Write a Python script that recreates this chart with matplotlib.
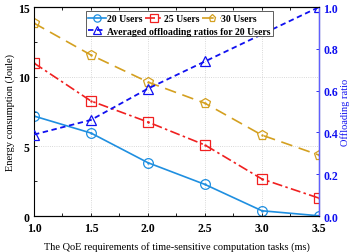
import matplotlib.pyplot as plt
from matplotlib.patches import Rectangle

plt.rcParams['font.family'] = 'Liberation Serif'

qoe = [1.0, 1.5, 2.0, 2.5, 3.0, 3.5]
energy_20 = [7.18, 5.96, 3.83, 2.27, 0.38, 0.02]
energy_25 = [10.98, 8.26, 6.75, 5.10, 2.66, 1.29]
energy_30 = [13.85, 11.56, 9.62, 8.10, 5.81, 4.38]
qoe_ratio = [1.0, 1.5, 2.0, 2.5, 3.5]
ratio_20 = [0.39, 0.46, 0.61, 0.74, 1.0]

c20 = '#1f8fe0'
c25 = '#f02020'
c30 = '#d4a020'
cavg = '#1010f0'

fig = plt.figure(figsize=(3.54, 2.53), dpi=100)
ax = fig.add_axes([0.096, 0.142, 0.805, 0.826])
ax2 = ax.twinx()

series = [
    (energy_20, c20, '-', 'o', '20 Users'),
    (energy_25, c25, (0, (6, 2, 1.5, 2)), 's', '25 Users'),
    (energy_30, c30, (0, (7, 4)), 'p', '30 Users'),
]
handles = []
for y, c, ls, m, lab in series:
    h, = ax.plot(qoe, y, color=c, linestyle=ls, linewidth=1.2, marker=m,
                 markersize=7, markerfacecolor='none', markeredgewidth=0.9, label=lab)
    ax.plot(qoe, y, linestyle='none', marker='.', markersize=1.5, color=c)
    handles.append(h)

hr, = ax2.plot(qoe_ratio, ratio_20, color=cavg, linestyle=(0, (3, 2)), linewidth=1.3,
               marker='^', markersize=7, markerfacecolor='none', markeredgewidth=0.9,
               label='Averaged offloading ratios for 20 Users')

ax.set_xlim(1.0, 3.5)
ax.set_ylim(0, 15)
ax2.set_ylim(0, 1.0)
ax.set_xticks([1.0, 1.5, 2.0, 2.5, 3.0, 3.5])
ax.set_xticks([1.25, 1.75, 2.25, 2.75, 3.25], minor=True)
ax.set_yticks([0, 5, 10, 15])
ax.set_yticks([2.5, 7.5, 12.5], minor=True)
ax2.set_yticks([0.0, 0.2, 0.4, 0.6, 0.8, 1.0])
ax.set_xticklabels(['1.0', '1.5', '2.0', '2.5', '3.0', '3.5'], fontweight='bold', fontsize=8.5)
ax.set_yticklabels(['0', '5', '10', '15'], fontweight='bold', fontsize=8.5)
ax2.set_yticklabels(['0.0', '0.2', '0.4', '0.6', '0.8', '1.0'], fontweight='bold',
                    fontsize=8.5, color=cavg)
ax.tick_params(which='both', direction='in', top=True, length=2.5, width=0.6)
ax.tick_params(axis='x', which='both', pad=4)
ax.tick_params(axis='y', which='both', right=False, pad=3)
ax2.tick_params(which='both', direction='in', length=2.5, width=0.6, colors=cavg, pad=3)
ax.grid(True, which='major', linestyle=':', color='#cccccc', linewidth=0.6)

for s in ax.spines.values():
    s.set_linewidth(0.8)
ax2.spines['right'].set_color('#6060ff')
ax2.spines['right'].set_linewidth(1.0)
ax2.spines['left'].set_visible(False)

ax.set_xlabel('The QoE requirements of time-sensitive computation tasks (ms)', fontsize=7.5, labelpad=5)
ax.set_ylabel('Energy consumption (Joule)', fontsize=7.5, labelpad=2)
ax2.set_ylabel('Offloading ratio', fontsize=7.5, color=cavg, labelpad=2)

leg_kw = dict(prop={'weight': 'bold', 'size': 7}, frameon=False, handlelength=1.9,
              handletextpad=0.05, borderpad=0.1, columnspacing=0.3, borderaxespad=0,
              markerscale=0.75)
leg1 = ax2.legend(handles=handles, ncol=3, loc='upper left',
                  bbox_to_anchor=(0.185, 0.97), **leg_kw)
ax2.add_artist(leg1)
leg2 = ax2.legend(handles=[hr], loc='upper left', bbox_to_anchor=(0.185, 0.91), **leg_kw)
ax2.add_patch(Rectangle((0.182, 0.862), 0.655, 0.117, transform=ax2.transAxes,
                        facecolor='white', edgecolor='#444444', linewidth=0.6, zorder=4))
leg1.set_zorder(5)
leg2.set_zorder(5)

fig.savefig('out.png', dpi=100)
